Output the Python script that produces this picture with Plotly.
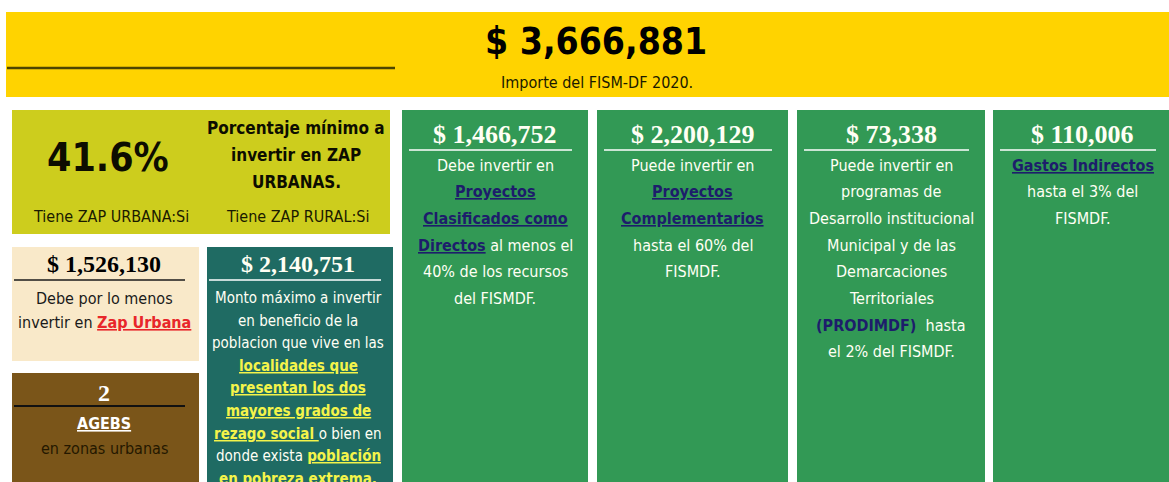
import plotly.graph_objects as go

# ---------------- data ----------------
fism_total = 3666881
fism_year = 2020
zap_urbana_pct = 41.6
tiene_zap_urbana = "Si"
tiene_zap_rural = "Si"
zap_urbana_min = 1526130
agebs_urbanas = 2
monto_max_rezago = 2140751
card_amounts = [1466752, 2200129, 73338, 110006]

def money(v):
    return f"$ {v:,}"

NAVY = "#1d1d6b"
WHITE = "#fffff4"
YEL = "#f4f44a"
link = lambda t: f"<span style='color:{NAVY}'><b><u>{t}</u></b></span>"
ylink = lambda t: f"<span style='color:{YEL}'><b><u>{t}</u></b></span>"

card_lines = [
    ["Debe invertir en", link("Proyectos"), link("Clasificados como"),
     link("Directos") + " al menos el", "40% de los recursos", "del FISMDF."],
    ["Puede invertir en", link("Proyectos"), link("Complementarios"),
     "hasta el 60% del", "FISMDF."],
    ["Puede invertir en", "programas de", "Desarrollo institucional",
     "Municipal y de las", "Demarcaciones", "Territoriales",
     f"<span style='color:{NAVY}'><b>(PRODIMDF)</b></span>  hasta", "el 2% del FISMDF."],
    [link("Gastos Indirectos"), "hasta el 3% del", "FISMDF."],
]

teal_lines = [
    "Monto máximo a invertir", "en beneficio de la", "poblacion que vive en las",
    ylink("localidades que"), ylink("presentan los dos"), ylink("mayores grados de"),
    ylink("rezago social ") + "o bien en", "donde exista " + ylink("población"),
    ylink("en pobreza extrema."),
]

# ---------------- style ----------------
SANS = "DejaVu Sans Condensed, DejaVu Sans, sans-serif"
SERIF = "Liberation Serif, DejaVu Serif, serif"

fig = go.Figure()
shapes, anns = [], []

def rect(x0, y0, x1, y1, color):
    shapes.append(dict(type="rect", x0=x0, y0=y0, x1=x1, y1=y1, xref="x", yref="y",
                       fillcolor=color, line=dict(width=0), layer="below"))

def hline(x0, x1, y, color, w=1.5):
    shapes.append(dict(type="line", x0=x0, x1=x1, y0=y, y1=y, xref="x", yref="y",
                       line=dict(color=color, width=w)))

def text(x, y, t, size, color, family=SANS):
    anns.append(dict(x=x, y=y, xref="x", yref="y", text=t, showarrow=False,
                     xanchor="center", yanchor="middle",
                     font=dict(size=size, color=color, family=family)))

# top banner
rect(6, 12, 1175, 97, "#ffd300")
hline(7, 395, 68, "#4d4500", 2.5)
text(596, 41, f"<b>{money(fism_total)}</b>", 37, "#000000")
text(597, 82, f"Importe del FISM-DF {fism_year}.", 16, "#1a1a00")

# lime box
rect(12, 110, 390, 234, "#cdcd1d")
text(108, 157, f"<b>{zap_urbana_pct:.1f}%</b>", 39, "#0d0d00")
for i, t in enumerate(["Porcentaje mínimo a", "invertir en ZAP", "URBANAS."]):
    text(296, 128 + 27 * i, f"<b>{t}</b>", 17, "#0d0d00")
text(111, 216, f"Tiene ZAP URBANA:{tiene_zap_urbana}", 16, "#1a1a00")
text(297, 216, f"Tiene ZAP RURAL:{tiene_zap_rural}", 16, "#1a1a00")

# beige box
rect(12, 247, 199, 361, "#f9e9c9")
text(104, 264, f"<b>{money(zap_urbana_min)}</b>", 24, "#000000", SERIF)
hline(14, 185, 280, "#1a1a1a", 1.5)
text(104, 298, "Debe por lo menos", 16, "#1a1a1a")
text(104, 322, "invertir en <span style='color:#e8262a'><b><u>Zap Urbana</u></b></span>", 16, "#1a1a1a")

# brown box
rect(12, 373, 199, 490, "#7a5519")
text(104, 393, f"<b>{agebs_urbanas}</b>", 24, "#ffffff", SERIF)
hline(14, 185, 406, "#111111", 2)
text(104, 423, "<b><u>AGEBS</u></b>", 16, "#ffffff")
text(104, 448, "en zonas urbanas", 16, "#241800")

# teal box
rect(207, 247, 393, 490, "#1f6b63")
text(298, 264, f"<b>{money(monto_max_rezago)}</b>", 24, WHITE, SERIF)
hline(209, 381, 280, "#ffffff", 1.5)
for i, t in enumerate(teal_lines):
    text(298, 298 + 22.6 * i, t, 15, WHITE)

# green cards
cards_x = [(402, 588), (597, 788), (797, 985), (993, 1172)]
for (x0, x1), amt, lines in zip(cards_x, card_amounts, card_lines):
    rect(x0, 110, x1, 490, "#329955")
    cx = (x0 + x1) / 2
    text(cx, 134, f"<b>{money(amt)}</b>", 26, WHITE, SERIF)
    hline(x0 + 7, x1 - 16, 150, "#ffffff", 1.5)
    for i, t in enumerate(lines):
        text(cx, 165 + 26.7 * i, t, 16, WHITE)

fig.update_layout(
    width=1169, height=482, margin=dict(l=0, r=0, t=0, b=0),
    paper_bgcolor="#ffffff", plot_bgcolor="#ffffff",
    xaxis=dict(range=[0, 1169], visible=False, fixedrange=True),
    yaxis=dict(range=[482, 0], visible=False, fixedrange=True),
    shapes=shapes, annotations=anns, showlegend=False,
)
fig.write_html(
    "out.html",
    config={"displayModeBar": False, "staticPlot": True},
    post_script="document.body.style.margin='0';document.body.style.overflow='hidden';",
)
